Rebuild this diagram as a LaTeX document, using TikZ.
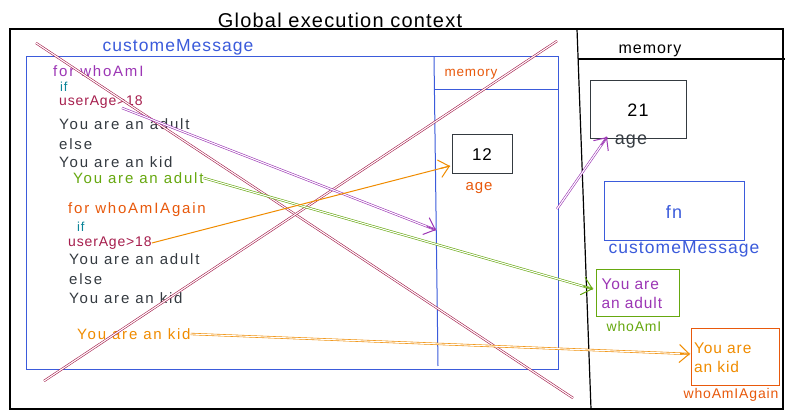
\documentclass[tikz,border=0pt]{standalone}
\usepackage{fontspec}
\setmainfont{Liberation Sans}[LetterSpace=6]
\usetikzlibrary{arrows.meta,calc}
\definecolor{cpurple}{HTML}{9C36B5}
\definecolor{cgreen}{HTML}{66A80F}
\definecolor{corange}{HTML}{F08C00}
\definecolor{cred}{HTML}{E8590C}
\definecolor{cblue}{HTML}{3B5BDB}
\definecolor{ccrim}{HTML}{A61E4D}
\definecolor{cteal}{HTML}{0C8599}
\definecolor{cgray}{HTML}{343A40}
\begin{document}
\begin{tikzpicture}[x=1pt,y=-1pt,
  code/.style={anchor=west, inner sep=0pt, font=\fontsize{15}{17}\selectfont\addfontfeature{LetterSpace=12}},
  lbl/.style={inner sep=0pt, font=\fontsize{14}{16}\selectfont},
  membox/.style={draw=cgray, line width=1pt, inner sep=0pt, font=\fontsize{17}{19}\selectfont},
  dbl/.style={double=white, double distance=1.1pt, line width=0.6pt},
  tipd/.style={-{Straight Barb[length=10pt,width=18pt]}, line width=1pt},
  frame/.style={line width=1.2pt},
]
\useasboundingbox (0,0) rectangle (795,419);
\fill[white] (0,0) rectangle (795,419);

% title and outer frame
\node[inner sep=0pt, font=\fontsize{20}{22}\selectfont] (title) at (340,20) {Global execution context};
\draw[frame, draw=black] (10,29) rectangle (783,409);
\coordinate (divT) at (577,29);
\coordinate (divB) at (591,409);
\draw[frame] (divT) -- (divB);
\coordinate (memL) at (578,59);
\coordinate (memR) at (785,59);
\draw[frame] (memL) -- (memR);
\node[lbl, font=\fontsize{16}{18}\selectfont] (gmem) at (650,51) {memory};

% function box
\draw[cblue, line width=1pt] (26,57) rectangle (558,370);
\coordinate (innerT) at (434,57);
\coordinate (innerB) at (438,366);
\draw[cblue, line width=1pt] (innerT) -- (innerB);
\coordinate (innerML) at (434,90);
\coordinate (innerMR) at (558,90);
\draw[cblue, line width=1pt] (innerML) -- (innerMR);
\node[lbl, text=cblue, font=\fontsize{17.5}{20}\selectfont] (fname) at (178,47) {customeMessage};
\node[lbl, text=cred, font=\fontsize{13.5}{15}\selectfont] (lmem) at (471,74) {memory};
\node[membox, minimum width=60pt, minimum height=39pt] (box12) at (482,154.5) {12};
\node[lbl, text=cred, font=\fontsize{15}{17}\selectfont] (age12) at (479,188) {age};

% code lines
\node[code, text=cpurple] (forA) at (53,71) {for whoAmI};
\node[code, text=cteal, font=\fontsize{13}{14}\selectfont] (ifA) at (60,87) {if};
\node[code, text=ccrim, font=\fontsize{14}{16}\selectfont] (condA) at (59,102) {userAge>18};
\node[code, text=cgray] (a1) at (59,124) {You are an adult};
\node[code, text=cgray] (a2) at (59,144) {else};
\node[code, text=cgray] (a3) at (59,162) {You are an kid};
\node[code, text=cgreen] (resA) at (73,178) {You are an adult};
\node[code, text=cred] (forB) at (68,210) {for whoAmIAgain};
\node[code, text=cteal, font=\fontsize{13}{14}\selectfont] (ifB) at (77,227) {if};
\node[code, text=ccrim, font=\fontsize{14}{16}\selectfont] (condB) at (68,243) {userAge>18};
\node[code, text=cgray] (b1) at (69,259) {You are an adult};
\node[code, text=cgray] (b2) at (69,279) {else};
\node[code, text=cgray] (b3) at (69,298) {You are an kid};
\node[code, text=corange] (resB) at (77,334) {You are an kid};

% global memory
\node[membox, minimum width=96pt, minimum height=58pt, font=\fontsize{18}{20}\selectfont] (box21) at (638,110) {21};
\node[lbl, text=cgray, font=\fontsize{18}{20}\selectfont] (age21) at (631,142) {age};
\node[membox, draw=cblue, text=cblue, minimum width=140pt, minimum height=59pt, font=\fontsize{18}{20}\selectfont] (fnbox) at (674,211.5) {fn};
\node[lbl, text=cblue, font=\fontsize{17.5}{20}\selectfont] (fnlbl) at (684,249) {customeMessage};
\node[membox, draw=cgreen, text=cpurple, minimum width=83pt, minimum height=47pt, align=left, text width=72pt, font=\fontsize{15.5}{19}\selectfont] (gbox) at (637.5,293.5) {You are\\an adult};
\node[lbl, text=cgreen, font=\fontsize{14}{16}\selectfont] (whoA) at (634,326) {whoAmI};
\node[membox, draw=cred, text=corange, minimum width=88pt, minimum height=57pt, align=left, text width=82pt, font=\fontsize{15.5}{19}\selectfont] (obox) at (735,357.5) {You are\\an kid};
\node[lbl, text=cred, font=\fontsize{14}{16}\selectfont] (whoB) at (731,395) {whoAmIAgain};

% crossing lines
\coordinate (x1s) at (36,43);
\coordinate (x1e) at (573,398);
\coordinate (x2s) at (44,381);
\coordinate (x2e) at (557,41);
\draw[ccrim, dbl] (x1s) -- (x1e);
\draw[ccrim, dbl] (x2s) -- (x2e);

% arrows
\coordinate (pAs) at (122,108);
\coordinate (pAe) at (436,230);
\draw[cpurple, dbl] (pAs) -- (pAe);
\draw[cpurple, tipd] ($(pAe)!10pt!(pAs)$) -- (pAe);

\coordinate (gAe) at (593,289);
\draw[cgreen, dbl] (resA.east) -- (gAe);
\draw[cgreen, tipd] ($(gAe)!10pt!(resA.east)$) -- (gAe);

\coordinate (oAe) at (450,166);
\draw[corange, line width=1pt] (condB.east) -- (oAe);
\draw[corange, tipd] ($(oAe)!10pt!(condB.east)$) -- (oAe);

\coordinate (oBe) at (690,354);
\draw[corange, dbl] (resB.east) -- (oBe);
\draw[corange, tipd] ($(oBe)!10pt!(resB.east)$) -- (oBe);

\coordinate (pBs) at (557,209);
\coordinate (pBe) at (607,137);
\draw[cpurple, dbl] (pBs) -- (pBe);
\draw[cpurple, tipd] ($(pBe)!10pt!(pBs)$) -- (pBe);
\end{tikzpicture}
\end{document}
